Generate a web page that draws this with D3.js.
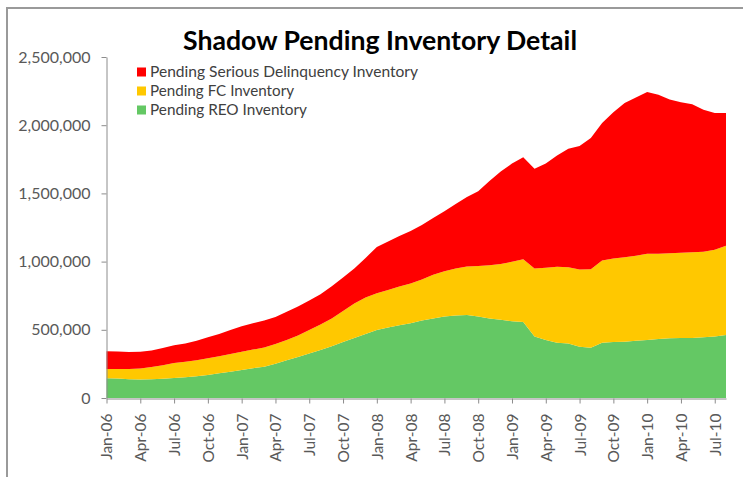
<!DOCTYPE html>
<html><head><meta charset="utf-8">
<script src="https://cdn.jsdelivr.net/npm/d3@7"></script>
<style>
body{margin:0;background:#fff}
svg{display:block}
text{font-family:Lato,"Open Sans",sans-serif}
</style>
</head><body>
<svg id="c" width="743" height="477"></svg>
<script>
const months = ["Jan-06","Feb-06","Mar-06","Apr-06","May-06","Jun-06","Jul-06","Aug-06","Sep-06","Oct-06","Nov-06","Dec-06",
"Jan-07","Feb-07","Mar-07","Apr-07","May-07","Jun-07","Jul-07","Aug-07","Sep-07","Oct-07","Nov-07","Dec-07",
"Jan-08","Feb-08","Mar-08","Apr-08","May-08","Jun-08","Jul-08","Aug-08","Sep-08","Oct-08","Nov-08","Dec-08",
"Jan-09","Feb-09","Mar-09","Apr-09","May-09","Jun-09","Jul-09","Aug-09","Sep-09","Oct-09","Nov-09","Dec-09",
"Jan-10","Feb-10","Mar-10","Apr-10","May-10","Jun-10","Jul-10","Aug-10"];

const reo = [145000,143000,138000,136000,138000,142000,147000,153000,160000,169000,181000,193000,
206000,219000,229000,252000,277000,301000,326000,351000,380000,410000,440000,469000,
498000,516000,534000,548000,568000,583000,598000,605000,609000,598000,583000,573000,
563000,558000,450000,425000,405000,400000,375000,368000,405000,410000,413000,420000,
425000,433000,438000,440000,440000,445000,450000,461000];

const fc = [68000,70000,74000,81000,89000,99000,109000,112000,117000,122000,125000,130000,
133000,136000,141000,143000,148000,158000,173000,188000,203000,227000,252000,267000,
270000,275000,283000,292000,301000,321000,331000,344000,355000,370000,390000,410000,
435000,460000,499000,529000,558000,558000,568000,576000,603000,613000,619000,622000,
632000,624000,624000,625000,629000,627000,637000,655000];

const sd = [130000,128000,125000,122000,122000,126000,131000,135000,143000,154000,163000,176000,
187000,193000,198000,198000,207000,212000,215000,222000,237000,247000,257000,291000,
339000,356000,370000,385000,400000,415000,440000,474000,509000,548000,618000,677000,
721000,747000,731000,766000,815000,869000,904000,963000,1008000,1072000,1131000,1161000,
1186000,1166000,1126000,1103000,1085000,1042000,1003000,973000];

const xTicks = ["Jan-06","Apr-06","Jul-06","Oct-06","Jan-07","Apr-07","Jul-07","Oct-07",
"Jan-08","Apr-08","Jul-08","Oct-08","Jan-09","Apr-09","Jul-09","Oct-09","Jan-10","Apr-10","Jul-10"];
const yTicks = [0,500000,1000000,1500000,2000000,2500000];

const seriesNames = ["Pending Serious Delinquency Inventory","Pending FC Inventory","Pending REO Inventory"];
const colors = {reo:"#64C864", fc:"#FFC800", sd:"#FF0000"};

const svg = d3.select("#c");

// outer border (top + left visible)
svg.append("path").attr("d","M7,477V8H743").attr("fill","none").attr("stroke","#9a9a9a").attr("stroke-width",2);

const x = d3.scalePoint().domain(months).range([106.5, 726]);
const y = d3.scaleLinear().domain([0,2500000]).range([398, 57]);

const rows = months.map((m,i)=>({m, reo:reo[i], fc:fc[i], sd:sd[i]}));
const stack = d3.stack().keys(["reo","fc","sd"]);
const layers = stack(rows);

const area = d3.area()
  .x(d=>x(d.data.m))
  .y0(d=>y(d[0]))
  .y1(d=>y(d[1]));

svg.append("g").selectAll("path").data(layers).join("path")
  .attr("d", area)
  .attr("fill", d=>colors[d.key]);

// y axis
const yAxis = svg.append("g").attr("transform","translate(106.5,0)")
  .call(d3.axisLeft(y).tickValues(yTicks).tickFormat(d3.format(",")).tickSize(5).tickSizeOuter(0).tickPadding(11));
yAxis.select(".domain").attr("stroke","#8c8c8c");
yAxis.selectAll(".tick line").attr("stroke","#8c8c8c");
yAxis.selectAll("text").attr("fill","#595959").style("font-size","16px").style("font-family","Lato, sans-serif");

// x axis
const xAxis = svg.append("g").attr("transform","translate(0,398.5)")
  .call(d3.axisBottom(x).tickValues(xTicks).tickSize(5).tickSizeOuter(0));
xAxis.select(".domain").attr("stroke","#8c8c8c");
xAxis.selectAll(".tick line").attr("stroke","#8c8c8c");
xAxis.selectAll("text")
  .attr("fill","#595959").style("font-size","15.5px").style("font-family","Lato, sans-serif")
  .attr("text-anchor","end")
  .attr("transform","rotate(-90)")
  .attr("x",-15).attr("y",0).attr("dy","0.35em");

// title
svg.append("text").attr("x",380).attr("y",50).attr("text-anchor","middle")
  .attr("textLength",394).attr("lengthAdjust","spacingAndGlyphs")
  .style("font-size","26px").style("font-weight","bold").attr("fill","#000")
  .text("Shadow Pending Inventory Detail");

// legend
const legKeys = ["sd","fc","reo"];
const legW = [268,144,157];
const leg = svg.append("g");
legKeys.forEach((k,i)=>{
  const cy = 72 + i*19;
  leg.append("rect").attr("x",137).attr("y",cy-4.5).attr("width",9).attr("height",9).attr("fill",colors[k]);
  leg.append("text").attr("x",150).attr("y",cy+5).attr("fill","#404040")
    .attr("textLength",legW[i]).attr("lengthAdjust","spacingAndGlyphs")
    .style("font-size","14.5px").text(seriesNames[i]);
});
</script>
</body></html>
